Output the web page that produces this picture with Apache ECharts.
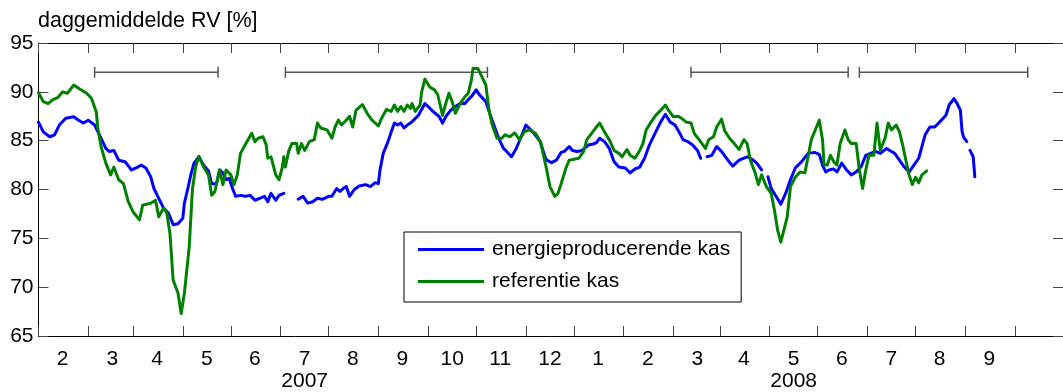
<!DOCTYPE html>
<html>
<head>
<meta charset="utf-8">
<script src="https://cdn.jsdelivr.net/npm/echarts@6/dist/echarts.min.js"></script>
<style>
  html, body { margin: 0; padding: 0; background: #fff; }
  #chart { width: 1063px; height: 392px; }
</style>
</head>
<body>
<div id="chart"></div>
<script>
// Day numbers count from 1 Jan 2007 (day 0); the axis runs to 1 Oct 2008.
const startDate = Date.UTC(2007, 0, 1);
const dayCount = 640;

// Month numbers printed under each month interval (Jan 2007 .. Aug 2008)
const monthLabels = ['2','3','4','5','6','7','8','9','10','11','12','1','2','3','4','5','6','7','8','9'];
// Year printed beneath a month label (index into monthLabels)
const yearLabels = { 5: '2007', 15: '2008' };

const yTicks = { min: 65, max: 95, step: 5 };

// Measurement periods drawn as brackets at the top: [first day, last day]
const periods = [[35, 112], [154, 280], [407, 505], [512, 617]];
const periodLevel = 92;

// Daily mean relative humidity [%], energy-producing greenhouse: [day, RV]
const energieKas = [
  [0,86.9],[3,85.9],[7,85.4],[10,85.6],[13,86.6],[17,87.3],[22,87.45],[25,87.1],[28,86.8],[31,87.1],
  [35,86.6],[38,85.6],[42,84.2],[44,83.9],[47,84.0],[50,83.0],[54,82.85],[58,82.0],[62,82.3],[64,82.5],
  [67,82.2],[70,81.3],[72,80.1],[75,79.1],[78,78.1],[81,77.6],[84,76.4],[87,76.5],[90,77.05],[91,78.6],
  [93,80.0],[95,81.5],[97,82.7],[100,83.35],[103,82.5],[106,81.9],[108,80.6],[111,80.6],[113,82.0],[115,81.7],
  [117,81.0],[119,81.15],[121,80.1],[123,79.3],[126,79.4],[129,79.3],[132,79.4],[135,78.9],[138,79.1],[141,79.3],
  [143,78.75],[145,79.6],[148,78.9],[150,79.4],[153,79.6],[156,null],
  [162,79.0],[165,79.3],[168,78.6],[171,78.75],[174,79.1],[177,79.0],[181,79.3],[183,79.3],[186,80.1],[188,79.8],
  [190,80.1],[192,80.3],[194,79.3],[197,80.0],[200,80.35],[204,80.5],[207,80.3],[210,80.7],[212,80.6],[213,82.0],
  [215,83.7],[218,84.9],[220,85.9],[222,86.8],[224,86.6],[226,86.8],[228,86.3],[230,86.6],[232,86.8],[234,87.1],
  [237,87.6],[241,88.8],[243,88.5],[246,88.0],[250,87.45],[252,86.8],[254,87.45],[257,88.1],[260,88.5],[263,88.8],
  [266,88.8],[268,89.2],[270,89.5],[273,90.2],[275,89.7],[279,89.0],[281,88.0],[284,86.6],[287,85.25],[290,84.2],
  [292,83.9],[295,83.35],[298,84.2],[301,85.4],[304,86.6],[307,86.1],[309,85.75],[313,84.9],[316,83.3],[317,83.0],
  [320,82.75],[323,83.0],[326,83.8],[328,83.9],[331,84.4],[333,84.0],[336,83.9],[339,84.0],[343,84.55],[346,84.65],
  [348,84.8],[350,85.25],[353,84.9],[356,84.2],[359,82.85],[362,82.3],[366,82.2],[369,81.7],[372,82.1],[375,82.3],
  [378,83.2],[381,84.55],[385,85.9],[388,86.9],[391,87.7],[394,86.9],[397,86.6],[400,85.75],[402,85.1],[405,84.9],
  [408,84.55],[411,84.0],[413,83.2],[414,null],
  [417,83.35],[420,83.5],[423,84.4],[426,83.9],[430,83.0],[433,82.4],[437,83.0],[442,83.35],[445,83.1],[448,82.7],
  [451,82.0],[453,null],
  [455,81.3],[457,80.1],[460,79.3],[463,78.5],[466,79.6],[469,81.0],[472,82.2],[476,82.85],[480,83.7],[484,83.8],
  [487,83.6],[489,82.5],[491,81.8],[493,82.0],[496,82.1],[498,81.8],[501,82.7],[504,82.0],[507,81.5],[510,81.8],
  [513,82.3],[516,83.5],[519,83.7],[522,83.9],[525,83.7],[529,84.2],[532,83.9],[534,83.7],[537,83.0],[540,82.3],
  [543,81.8],[546,82.5],[549,83.2],[551,84.4],[553,85.6],[556,86.4],[559,86.4],[562,86.9],[566,87.6],[568,88.65],
  [571,89.3],[573,88.8],[575,88.1],[576,86.0],[577,85.35],[579,84.9],[580,null],
  [581,84.0],[583,83.35],[584,81.3]
];

// Daily mean relative humidity [%], reference greenhouse: [day, RV]
const referentieKas = [
  [0,89.9],[3,89.0],[6,88.8],[9,89.2],[12,89.4],[15,90.0],[18,89.85],[22,90.7],[25,90.36],[30,89.85],
  [33,89.34],[36,87.97],[37,86.3],[39,84.4],[42,82.7],[45,81.5],[47,82.3],[50,81.0],[53,80.6],[56,78.75],
  [59,77.7],[63,76.9],[65,78.4],[70,78.6],[73,78.9],[75,77.2],[78,78.1],[80,77.6],[82,75.5],[84,70.7],
  [87,69.4],[89,67.3],[91,69.4],[94,74.1],[96,80.0],[98,82.3],[100,83.4],[103,82.3],[106,81.5],[108,79.4],
  [110,79.8],[113,82.0],[115,80.5],[117,82.0],[120,81.5],[122,80.5],[124,81.5],[126,83.7],[129,84.6],[133,85.75],
  [135,84.9],[137,85.25],[140,85.4],[142,84.6],[143,83.2],[145,83.35],[148,81.5],[150,81.0],[152,82.2],[153,83.35],
  [154,82.3],[156,83.9],[158,84.7],[161,84.7],[162,83.7],[164,84.7],[166,84.0],[169,84.9],[172,85.1],[174,86.8],
  [176,86.3],[180,86.1],[183,85.25],[185,86.4],[187,87.1],[189,86.6],[192,87.1],[194,87.5],[196,86.4],[198,88.1],
  [202,88.7],[205,87.8],[208,87.1],[212,86.5],[214,87.3],[217,88.2],[220,88.0],[222,88.65],[224,88.0],[226,88.5],
  [228,88.0],[230,88.65],[232,88.3],[233,88.8],[235,88.0],[238,88.65],[239,90.0],[241,91.3],[244,90.5],[247,90.2],
  [249,89.7],[252,87.6],[254,88.8],[256,89.85],[258,89.0],[260,87.8],[263,88.8],[266,89.5],[268,89.85],[270,91.2],
  [271,92.4],[274,92.4],[277,91.4],[279,90.7],[281,88.1],[283,86.6],[286,85.25],[289,85.25],[291,85.6],[294,85.4],
  [297,85.8],[300,85.1],[303,85.9],[306,86.1],[310,85.75],[313,84.9],[315,83.5],[317,82.0],[319,80.3],[322,79.3],
  [324,79.6],[326,80.6],[329,82.2],[331,83.0],[334,83.1],[337,83.2],[340,83.9],[342,85.1],[345,85.75],[348,86.4],
  [350,86.8],[353,85.9],[356,85.1],[359,84.0],[362,83.7],[364,83.35],[367,84.1],[369,83.5],[372,83.2],[375,84.0],
  [377,84.7],[379,86.1],[382,86.9],[385,87.6],[388,88.1],[391,88.65],[393,88.1],[396,87.45],[399,87.5],[401,87.3],
  [404,86.9],[407,86.8],[409,85.75],[412,85.1],[416,84.2],[418,85.1],[421,85.4],[423,86.4],[426,87.2],[428,86.0],
  [431,85.25],[434,84.7],[437,84.1],[440,85.1],[442,84.7],[444,83.0],[447,81.7],[449,80.5],[451,81.5],[454,80.3],
  [457,79.6],[459,77.9],[461,75.85],[463,74.6],[467,77.2],[469,80.3],[472,81.25],[475,81.8],[478,81.7],[480,83.35],
  [482,85.1],[485,86.3],[487,87.1],[489,85.1],[490,82.5],[492,82.5],[494,83.5],[496,82.85],[498,82.5],[500,84.7],
  [503,86.1],[505,85.1],[507,84.7],[510,84.7],[512,82.0],[514,80.1],[516,82.0],[518,83.5],[521,83.5],[523,86.8],
  [525,84.0],[528,85.25],[530,86.8],[532,86.1],[535,86.6],[537,85.9],[539,84.55],[541,83.0],[543,81.5],[545,80.5],
  [547,81.25],[549,80.7],[551,81.5],[554,81.9]
];

const FONT = '"Liberation Sans", Arial, Helvetica, sans-serif';
const TICK_COLOR = '#444';

function pad(n) { return (n < 10 ? '0' : '') + n; }
const days = [];
for (let i = 0; i < dayCount; i++) {
  const d = new Date(startDate + i * 86400000);
  days.push(d.getUTCFullYear() + '-' + pad(d.getUTCMonth() + 1) + '-' + pad(d.getUTCDate()));
}
// label text keyed by the mid-month date it is centred on
const labelText = {};
monthLabels.forEach(function (txt, i) {
  const d = new Date(Date.UTC(2007, i, 16));
  const key = d.getUTCFullYear() + '-' + pad(d.getUTCMonth() + 1) + '-16';
  labelText[key] = yearLabels[i] ? txt + '\n' + yearLabels[i] : txt;
});
const isMonthStart = function (idx, val) { return String(val).slice(8) === '01'; };

const chart = echarts.init(document.getElementById('chart'), null, { renderer: 'canvas' });

const xCommon = {
  type: 'category',
  data: days,
  boundaryGap: false,
  axisLine: { show: true, onZero: false, lineStyle: { color: '#000', width: 1 } },
  axisTick: { show: true, inside: true, length: 10, interval: isMonthStart, lineStyle: { color: TICK_COLOR, width: 1 } },
  splitLine: { show: false }
};
const yCommon = {
  type: 'value',
  min: yTicks.min, max: yTicks.max, interval: yTicks.step,
  axisLine: { show: true, lineStyle: { color: '#000', width: 1 } },
  axisTick: { show: true, inside: true, length: 10, lineStyle: { color: TICK_COLOR, width: 1 } },
  splitLine: { show: false }
};

chart.setOption({
  animation: false,
  backgroundColor: '#fff',
  textStyle: { fontFamily: FONT },
  title: {
    text: 'daggemiddelde RV [%]',
    left: 38, top: 10,
    padding: 0,
    textStyle: { fontFamily: FONT, fontSize: 21.5, fontWeight: 'normal', color: '#000' }
  },
  grid: { left: 38.5, right: -7.4, top: 43, bottom: 56, containLabel: false },
  legend: {
    orient: 'vertical',
    left: 404, top: 232,
    padding: [7, 11, 10, 14],
    itemGap: 11,
    itemWidth: 66,
    itemHeight: 14,
    backgroundColor: '#fff',
    borderColor: '#000',
    borderWidth: 1,
    borderRadius: 0,
    icon: 'path://M0,0 L66,0 L66,3 L0,3 Z',
    textStyle: { fontFamily: FONT, fontSize: 21, color: '#000', padding: [0, 0, 0, 3] },
    data: ['energieproducerende kas', 'referentie kas']
  },
  xAxis: [
    Object.assign({}, xCommon, {
      position: 'bottom',
      axisLabel: {
        show: true,
        interval: function (idx, val) { return labelText[val] !== undefined; },
        formatter: function (val) { return labelText[val] || ''; },
        margin: 12,
        fontFamily: FONT, fontSize: 21, color: '#000', lineHeight: 22
      }
    }),
    Object.assign({}, xCommon, { position: 'top', axisLabel: { show: false } })
  ],
  yAxis: [
    Object.assign({}, yCommon, {
      position: 'left',
      axisLabel: { show: true, margin: 5, fontFamily: FONT, fontSize: 21, color: '#000' }
    }),
    Object.assign({}, yCommon, { position: 'right', axisLabel: { show: false } })
  ],
  series: [
    {
      name: 'energieproducerende kas',
      type: 'line',
      xAxisIndex: 0, yAxisIndex: 0,
      data: energieKas,
      showSymbol: false, symbol: 'none',
      connectNulls: false,
      color: '#0000ff',
      lineStyle: { color: '#0000ff', width: 3, join: 'round', cap: 'round' },
      z: 3
    },
    {
      name: 'referentie kas',
      type: 'line',
      xAxisIndex: 0, yAxisIndex: 0,
      data: referentieKas,
      showSymbol: false, symbol: 'none',
      connectNulls: false,
      color: '#008000',
      lineStyle: { color: '#008000', width: 3, join: 'round', cap: 'round' },
      z: 4
    },
    {
      name: 'perioden',
      type: 'custom',
      xAxisIndex: 0, yAxisIndex: 0,
      silent: true,
      data: periods.map(function (p) { return [p[0], p[1], periodLevel]; }),
      encode: { x: [0, 1], y: 2 },
      renderItem: function (params, api) {
        const a = api.coord([api.value(0), api.value(2)]);
        const b = api.coord([api.value(1), api.value(2)]);
        const h = 5.5;
        const st = { stroke: '#555', lineWidth: 1.5 };
        return {
          type: 'group',
          children: [
            { type: 'line', shape: { x1: a[0], y1: a[1], x2: b[0], y2: b[1] }, style: st },
            { type: 'line', shape: { x1: a[0], y1: a[1] - h, x2: a[0], y2: a[1] + h }, style: st },
            { type: 'line', shape: { x1: b[0], y1: b[1] - h, x2: b[0], y2: b[1] + h }, style: st }
          ]
        };
      },
      z: 2
    }
  ]
});
</script>
</body>
</html>
